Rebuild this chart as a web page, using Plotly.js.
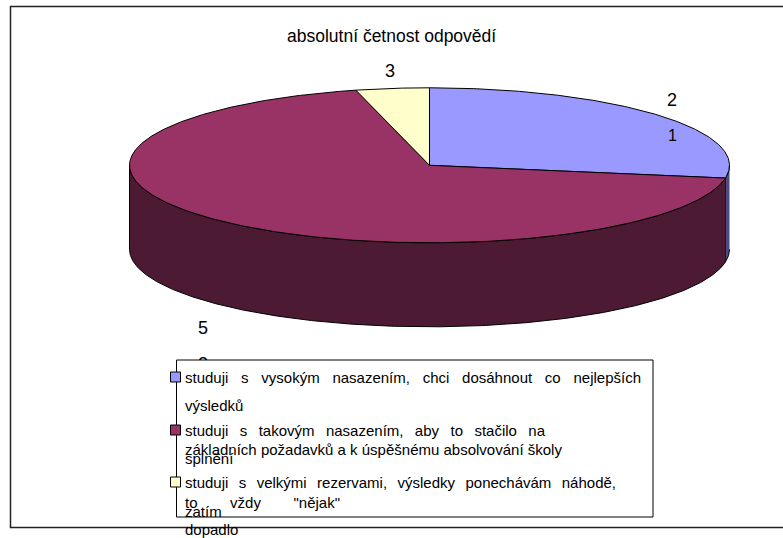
<!DOCTYPE html>
<html>
<head>
<meta charset="utf-8">
<script src="https://cdn.plot.ly/plotly-3.0.1.min.js"></script>
<style>html,body{margin:0;padding:0;background:#fff;overflow:hidden}</style>
</head>
<body>
<div id="chart" style="width:783px;height:538px"></div>
<script>
// Data
const categories = [
  'studuji s vysokým nasazením, chci dosáhnout co nejlepších výsledků',
  'studuji s takovým nasazením, aby to stačilo na splnění základních požadavků a k úspěšnému absolvování školy',
  'studuji s velkými rezervami, výsledky ponechávám náhodě, zatím to vždy "nějak" dopadlo'
];
const values = [21, 52, 3];
const topColors = ['#9999FF', '#993366', '#FFFFCC'];
const sideColors = ['#4C4C80', '#4D1A33', '#808066'];
const chartTitle = 'absolutní četnost odpovědí';

// Wrapped legend lines as the reference draws them: [text, y, target width or 0]
const legendLines = [
  ['studuji s vysokým nasazením, chci dosáhnout co nejlepších', 377.5, 456],
  ['výsledků', 405.5, 0],
  ['studuji s takovým nasazením, aby to stačilo na', 430.5, 360],
  ['základních požadavků a k úspěšnému absolvování školy', 449.5, 0],
  ['splnění', 458.5, 0],
  ['studuji s velkými rezervami, výsledky ponechávám náhodě,', 482.5, 431],
  ['to vždy "nějak"', 502.5, 155],
  ['zatím', 511.5, 0],
  ['dopadlo', 529.5, 0]
];

// Geometry of the tilted pie, in page pixels
const cx = 429.5, cy = 165.3, rx = 300, ry = 77.5, depth = 84;
const total = values.reduce((a, b) => a + b, 0);
const pt = (deg, dy) => [cx + rx * Math.sin(deg * Math.PI / 180), cy - ry * Math.cos(deg * Math.PI / 180) + (dy || 0)];
const arc = (a, b, dy) => {
  const out = [], n = Math.max(2, Math.ceil(Math.abs(b - a) * 2));
  for (let i = 0; i <= n; i++) out.push(pt(a + (b - a) * i / n, dy));
  return out;
};
const polyTrace = (points, fill) => ({
  type: 'scatter', mode: 'lines', x: points.map(p => p[0]), y: points.map(p => p[1]),
  fill: 'toself', fillcolor: fill, line: {color: '#000', width: 1}, hoverinfo: 'skip', showlegend: false
});

const traces = [];
const sides = [], tops = [];
let start = 0;
values.forEach((v, i) => {
  const end = start + v / total * 360;
  // the visible wall is the front half of the rim: 90 to 270 degrees
  const a = Math.max(start, 90), b = Math.min(end, 270);
  if (b > a) sides.push(polyTrace(arc(a, b, 0).concat(arc(b, a, depth)), sideColors[i]));
  tops.push(polyTrace([[cx, cy]].concat(arc(start, end, 0), [[cx, cy]]), topColors[i]));
  start = end;
});
// right-hand wall first so that the maroon wall overlaps it
traces.push(...sides, ...tops);

// Data labels are wrapped by the narrow label box; this one sits partly behind the legend
traces.push({
  type: 'scatter', mode: 'text', x: [203, 203], y: [329, 365],
  text: ['5', '2'], textfont: {family: 'Liberation Sans, Arial, sans-serif', size: 18, color: '#000'},
  textposition: 'middle center', hoverinfo: 'skip', showlegend: false
});

const font = {family: 'Liberation Sans, Arial, sans-serif', color: '#000'};
const note = (text, x, y, size, xanchor) => ({
  text, x, y, xref: 'x', yref: 'y', showarrow: false, xanchor: xanchor || 'center', yanchor: 'middle',
  align: 'left', borderpad: 0, font: Object.assign({size}, font)
});
const annotations = [
  note(chartTitle, 391.5, 36, 17.5),
  note('3', 390, 71, 18),
  note('2', 672, 100, 18),
  note('1', 672, 135, 16)
];
legendLines.forEach(l => annotations.push(note(l[0], 183.5, l[1], 15, 'left')));

const swatchY = [372, 425, 477];
const shapes = [
  {type: 'rect', xref: 'x', yref: 'y', x0: 10.5, y0: 6.5, x1: 800, y1: 527.5, layer: 'below', line: {color: '#222', width: 1.5}},
  {type: 'rect', xref: 'x', yref: 'y', x0: 176.5, y0: 360, x1: 653, y1: 517, layer: 'above', fillcolor: '#fff', line: {color: '#000', width: 1}}
];
swatchY.forEach((y, i) => shapes.push({
  type: 'rect', xref: 'x', yref: 'y', x0: 170.5, x1: 180.5, y0: y, y1: y + 10, layer: 'above',
  fillcolor: topColors[i], line: {color: '#000', width: 1}
}));

const hidden = {visible: false, fixedrange: true};
Plotly.newPlot('chart', traces, {
  width: 783, height: 538, margin: {l: 0, r: 0, t: 0, b: 0},
  paper_bgcolor: '#fff', plot_bgcolor: '#fff', showlegend: false,
  xaxis: Object.assign({range: [0, 783]}, hidden),
  yaxis: Object.assign({range: [538, 0]}, hidden),
  annotations, shapes
}, {displayModeBar: false, staticPlot: true}).then(() => {
  // The reference justifies some legend lines: widen their word gaps to the measured width
  document.querySelectorAll('.annotation-text').forEach(el => {
    const line = legendLines.find(l => l[0] === el.textContent);
    if (!line || !line[2]) return;
    const gaps = line[0].split(' ').length - 1;
    el.style.wordSpacing = ((line[2] - el.getComputedTextLength()) / gaps) + 'px';
  });
});
</script>
</body>
</html>
